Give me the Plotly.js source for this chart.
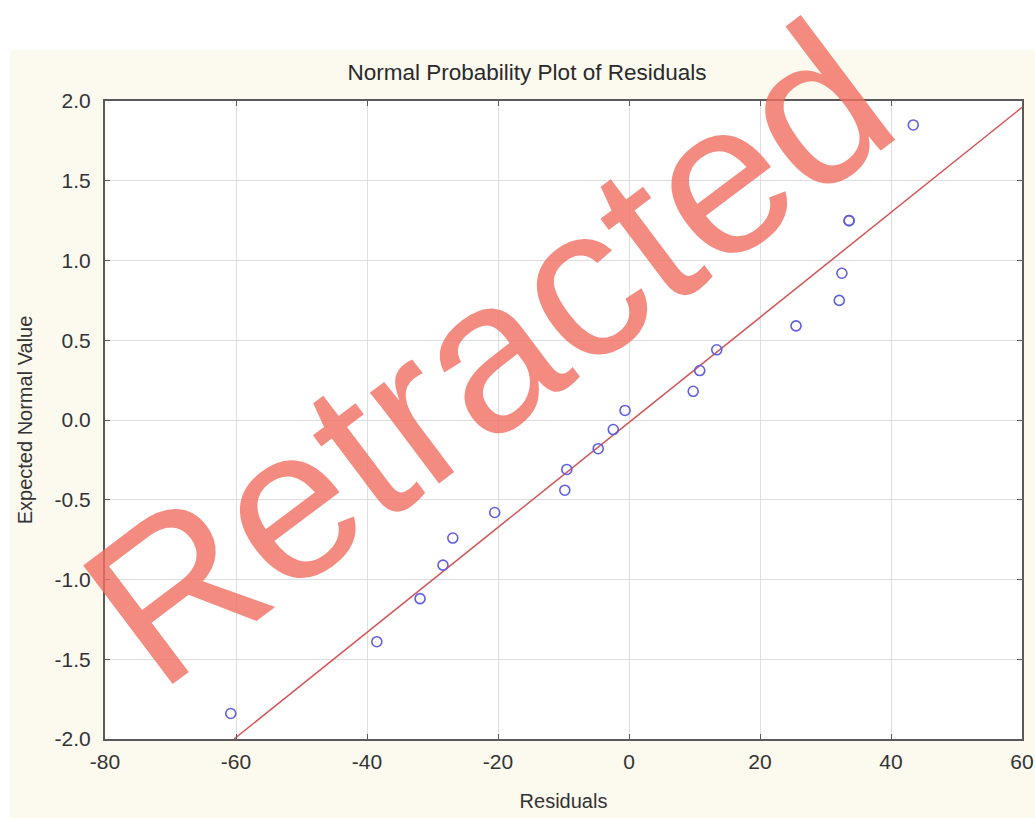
<!DOCTYPE html>
<html>
<head>
<meta charset="utf-8">
<script src="https://cdn.plot.ly/plotly-3.0.1.min.js"></script>
<style>
  html, body { margin: 0; padding: 0; background: #ffffff; width: 1035px; height: 818px; overflow: hidden; }
  #chart { position: absolute; left: 0; top: 0; width: 1035px; height: 818px; }
</style>
</head>
<body>
<div id="chart"></div>
<script>
// Residuals (x) and expected normal values (y)
const residuals = [-60.8, -38.5, -31.9, -28.4, -26.9, -20.5, -9.8, -9.5, -4.7, -2.4, -0.6, 9.8, 10.8, 13.4, 25.5, 32.1, 32.5, 33.6, 33.6, 43.4];
const expectedNormal = [-1.84, -1.39, -1.12, -0.91, -0.74, -0.58, -0.44, -0.31, -0.18, -0.06, 0.06, 0.18, 0.31, 0.44, 0.59, 0.75, 0.92, 1.25, 1.25, 1.85];

// Reference line end points
const lineX = [-60.3, 60];
const lineY = [-2.0, 1.96];

// Tick labels
const xTickVals = [-80, -60, -40, -20, 0, 20, 40, 60];
const xTickText = ['-80', '-60', '-40', '-20', '0', '20', '40', '60'];
const yTickVals = [-2, -1.5, -1, -0.5, 0, 0.5, 1, 1.5, 2];
const yTickText = ['-2.0', '-1.5', '-1.0', '-0.5', '0.0', '0.5', '1.0', '1.5', '2.0'];

const FONT = 'Arial, "Liberation Sans", Helvetica, sans-serif';

const traces = [
  {
    x: lineX, y: lineY, type: 'scatter', mode: 'lines',
    line: { color: 'rgb(210,85,85)', width: 1.5 },
    hoverinfo: 'skip', showlegend: false
  },
  {
    x: residuals, y: expectedNormal, type: 'scatter', mode: 'markers',
    marker: { symbol: 'circle-open', size: 10, color: 'rgb(95,95,225)', line: { width: 1.6, color: 'rgb(95,95,225)' } },
    showlegend: false
  }
];

const axisCommon = {
  showline: true, linecolor: '#5a5a5a', linewidth: 2, mirror: 'ticks',
  ticks: 'inside', ticklen: 5, tickwidth: 1, tickcolor: '#5a5a5a',
  showgrid: true, gridcolor: '#dedede', gridwidth: 1,
  zeroline: false,
  tickfont: { family: FONT, size: 21, color: '#333333' }
};

const layout = {
  width: 1035, height: 818,
  margin: { l: 105, r: 13, t: 101, b: 79 },
  paper_bgcolor: '#ffffff',
  plot_bgcolor: '#ffffff',
  font: { family: FONT, color: '#333333' },
  title: {
    text: 'Normal Probability Plot of Residuals',
    font: { family: FONT, size: 22.5, color: '#2a2a2a' },
    xref: 'container', x: 527 / 1035, xanchor: 'center',
    yref: 'container', y: 1 - 72 / 818, yanchor: 'middle'
  },
  xaxis: Object.assign({}, axisCommon, {
    range: [-80, 60], tickmode: 'array', tickvals: xTickVals, ticktext: xTickText,
    ticklabelstandoff: 3,
    title: { text: 'Residuals', font: { family: FONT, size: 20, color: '#333333' }, standoff: 22 }
  }),
  yaxis: Object.assign({}, axisCommon, {
    range: [-2, 2], tickmode: 'array', tickvals: yTickVals, ticktext: yTickText,
    ticklabelstandoff: 8,
    title: { text: 'Expected Normal Value', font: { family: FONT, size: 20, color: '#333333' }, standoff: 17 }
  }),
  shapes: [
    // cream page background
    { type: 'rect', xref: 'paper', yref: 'paper', layer: 'below',
      x0: (10 - 105) / 917, x1: (1035 - 105) / 917, y0: (739 - 818) / 638, y1: (739 - 50) / 638,
      fillcolor: '#fcf9ef', line: { width: 0 } },
    // white plotting area
    { type: 'rect', xref: 'paper', yref: 'paper', layer: 'below',
      x0: 0, x1: 1, y0: 0, y1: 1,
      fillcolor: '#ffffff', line: { width: 0 } }
  ],
  annotations: [
    {
      text: 'Retracted', xref: 'paper', yref: 'paper', x: 0.417, y: 0.605,
      xanchor: 'center', yanchor: 'middle', showarrow: false, textangle: -37,
      font: { family: FONT, size: 216, color: 'rgba(241,110,98,0.8)' }
    }
  ]
};

Plotly.newPlot('chart', traces, layout, { displayModeBar: false, staticPlot: true });
</script>
</body>
</html>
